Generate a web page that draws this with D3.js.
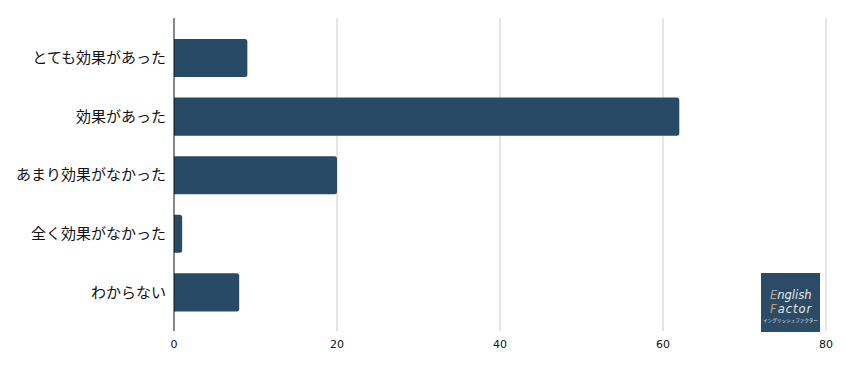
<!DOCTYPE html>
<html><head><meta charset="utf-8">
<script src="https://cdn.jsdelivr.net/npm/d3@7"></script>
<style>body{margin:0;background:#fff;}svg{display:block;}</style>
</head><body>
<script>
const categories = ["とても効果があった","効果があった","あまり効果がなかった","全く効果がなかった","わからない"];
const values = [9, 62, 20, 1, 8];
const ticks = [0, 20, 40, 60, 80];

const W = 846, H = 371;
const svg = d3.select("body").append("svg").attr("width", W).attr("height", H);
const x = d3.scaleLinear().domain([0, 80]).range([174, 826]);
const y = d3.scaleBand().domain(categories).range([28.7, 321.7]).paddingInner(0.35).paddingOuter(0.175);
const plotTop = 18, plotBottom = 331;

// grid
svg.append("g").selectAll("line").data(ticks.filter(t => t > 0)).join("line")
  .attr("x1", d => x(d)).attr("x2", d => x(d)).attr("y1", plotTop).attr("y2", plotBottom)
  .attr("stroke", "#cccccc").attr("stroke-width", 1);

// bars with right rounded corners
svg.append("g").selectAll("path").data(values).join("path")
  .attr("fill", "#274b66")
  .attr("d", (d, i) => {
    const x0 = x(0), x1 = x(d), y0 = y(categories[i]), h = y.bandwidth();
    const r = Math.min(2.5, (x1 - x0) / 2);
    return `M${x0},${y0}H${x1 - r}Q${x1},${y0} ${x1},${y0 + r}V${y0 + h - r}Q${x1},${y0 + h} ${x1 - r},${y0 + h}H${x0}Z`;
  });

// axis line
svg.append("line").attr("x1", x(0)).attr("x2", x(0)).attr("y1", plotTop).attr("y2", plotBottom)
  .attr("stroke", "#111").attr("stroke-width", 1);

// tick labels
svg.append("g").selectAll("text").data(ticks).join("text")
  .attr("x", d => x(d)).attr("y", 347.5).attr("text-anchor", "middle")
  .attr("font-family", "DejaVu Sans, sans-serif").attr("font-size", 11).attr("fill", "#111")
  .text(d => d);

// category labels
svg.append("g").selectAll("text").data(categories).join("text")
  .attr("x", 166).attr("y", d => y(d) + y.bandwidth() / 2).attr("dy", "0.35em")
  .attr("text-anchor", "end")
  .attr("font-family", "Noto Sans CJK JP, sans-serif").attr("font-size", 15).attr("fill", "#111")
  .text(d => d);

// logo
const lg = svg.append("g").attr("transform", "translate(761,273)");
lg.append("rect").attr("width", 59).attr("height", 59).attr("fill", "#2b4b66");
const t1 = lg.append("text").attr("x", 9).attr("y", 26).attr("font-family", "DejaVu Sans, sans-serif")
  .attr("font-style", "italic").attr("font-size", 11.5).attr("fill", "#e8e8e8");
t1.append("tspan").attr("fill", "#b0a89a").text("E");
t1.append("tspan").text("nglish");
const t2 = lg.append("text").attr("x", 9).attr("y", 40).attr("font-family", "DejaVu Sans, sans-serif")
  .attr("font-style", "italic").attr("font-size", 11.5).attr("fill", "#e8e8e8").attr("letter-spacing", 1);
t2.append("tspan").attr("fill", "#c8a070").text("F");
t2.append("tspan").text("actor");
lg.append("text").attr("x", 29.5).attr("y", 49).attr("text-anchor", "middle")
  .attr("font-family", "Noto Sans CJK JP, sans-serif").attr("font-size", 4.6).attr("fill", "#e8e8e8")
  .text("イングリッシュファクター");
</script>
</body></html>
